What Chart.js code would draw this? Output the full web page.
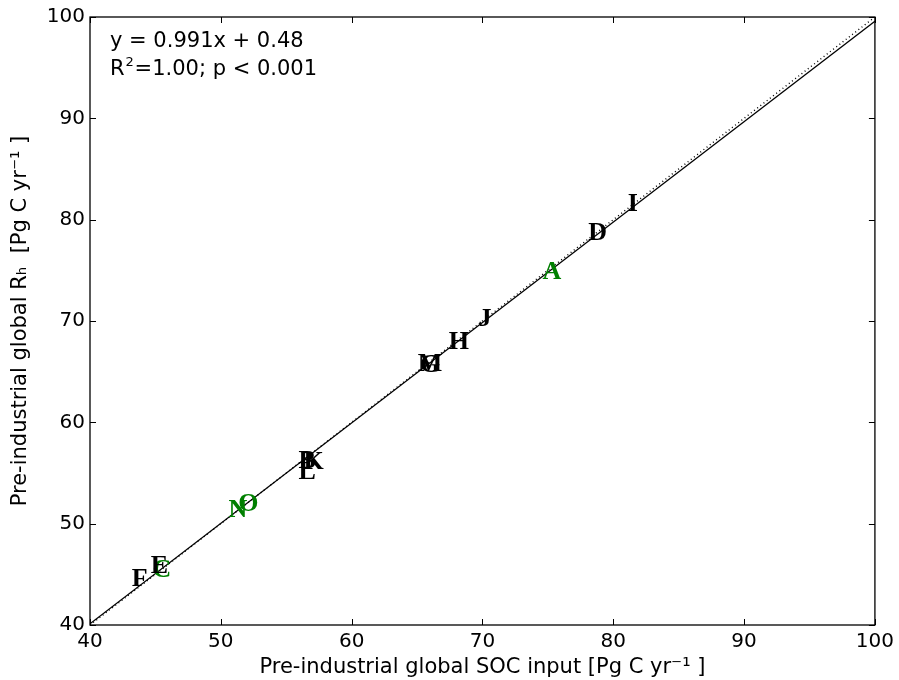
<!DOCTYPE html>
<html>
<head>
<meta charset="utf-8">
<script src="https://cdn.jsdelivr.net/npm/chart.js@4.4.1/dist/chart.umd.min.js"></script>
<style>
  html, body { margin: 0; padding: 0; background: #fff; }
  #chart { display: block; }
</style>
</head>
<body>
<canvas id="chart" width="899" height="680"></canvas>
<script>
// model letters and their values
const modelLabels = ["A", "B", "C", "D", "E", "F", "G", "H", "I", "J", "K", "L", "M", "N", "O"];
const socInput = [75.3, 56.6, 45.5, 78.8, 45.3, 43.8, 66.0, 68.2, 81.5, 70.2, 57.1, 56.6, 66.0, 51.3, 52.1];
const rhValues = [74.9, 56.3, 45.5, 78.8, 45.9, 44.6, 65.7, 68.0, 81.6, 70.3, 56.2, 55.2, 65.8, 51.4, 52.0];
const greenModels = ["A", "C", "N", "O"];

// fit and 1:1 line
const slope = 0.991;
const intercept = 0.48;
const lineX = [40, 100];
const axisTicks = [40, 50, 60, 70, 80, 90, 100];

const fitPoints = lineX.map((x) => ({ x: x, y: slope * x + intercept }));
const onePoints = lineX.map((x) => ({ x: x, y: x }));
const letterPoints = socInput.map((x, i) => ({ x: x, y: rhValues[i], label: modelLabels[i] }));

// letters drawn at the scatter positions
const letterPlugin = {
  id: "letters",
  afterDatasetsDraw(chart) {
    const meta = chart.getDatasetMeta(2);
    const ctx = chart.ctx;
    ctx.save();
    ctx.font = "bold 26px 'Liberation Serif'";
    ctx.textAlign = "center";
    ctx.textBaseline = "middle";
    meta.data.forEach((pt, i) => {
      const lab = modelLabels[i];
      ctx.fillStyle = greenModels.includes(lab) ? "#008000" : "#000000";
      ctx.fillText(lab, pt.x, pt.y + 1);
    });
    ctx.restore();
  },
};

// frame, inward ticks on all four sides, and fit text
const framePlugin = {
  id: "frame",
  afterDraw(chart) {
    const ctx = chart.ctx;
    const a = chart.chartArea;
    const xs = chart.scales.x;
    const ys = chart.scales.y;
    ctx.save();
    ctx.strokeStyle = "#000";
    ctx.lineWidth = 1.3;
    ctx.strokeRect(a.left, a.top, a.right - a.left, a.bottom - a.top);
    ctx.lineWidth = 1;
    ctx.beginPath();
    axisTicks.forEach((v) => {
      const px = Math.round(xs.getPixelForValue(v)) + 0.5;
      ctx.moveTo(px, a.bottom);
      ctx.lineTo(px, a.bottom - 6);
      ctx.moveTo(px, a.top);
      ctx.lineTo(px, a.top + 6);
      const py = Math.round(ys.getPixelForValue(v)) + 0.5;
      ctx.moveTo(a.left, py);
      ctx.lineTo(a.left + 6, py);
      ctx.moveTo(a.right, py);
      ctx.lineTo(a.right - 6, py);
    });
    ctx.stroke();

    ctx.fillStyle = "#000";
    ctx.font = "21px 'DejaVu Sans'";
    ctx.textAlign = "left";
    ctx.textBaseline = "middle";
    ctx.fillText("y = 0.991x + 0.48", a.left + 20, 42);
    ctx.fillText("R", a.left + 20, 70);
    const rw = ctx.measureText("R").width;
    ctx.font = "13px 'DejaVu Sans'";
    ctx.fillText("2", a.left + 20 + rw + 1, 63);
    ctx.font = "21px 'DejaVu Sans'";
    ctx.fillText("=1.00; p < 0.001", a.left + 20 + rw + 10, 70);
    ctx.restore();
  },
};

const ctx = document.getElementById("chart").getContext("2d");

const chart = new Chart(ctx, {
  type: "scatter",
  data: {
    datasets: [
      {
        type: "line",
        data: onePoints,
        borderColor: "#000",
        borderWidth: 1.4,
        borderDash: [1, 3],
        pointRadius: 0,
        fill: false,
      },
      {
        type: "line",
        data: fitPoints,
        borderColor: "#000",
        borderWidth: 1.3,
        pointRadius: 0,
        fill: false,
      },
      {
        data: letterPoints,
        pointRadius: 0,
        pointHoverRadius: 0,
      },
    ],
  },
  options: {
    responsive: false,
    animation: false,
    events: [],
    layout: {
      padding: { top: 17, right: 23, left: 0, bottom: 0 },
    },
    plugins: {
      legend: { display: false },
      tooltip: { enabled: false },
    },
    scales: {
      x: {
        type: "linear",
        min: 40,
        max: 100,
        afterFit: (scale) => {
          scale.height = 55;
        },
        afterBuildTicks: (scale) => {
          scale.ticks = axisTicks.map((v) => ({ value: v }));
        },
        grid: { display: false, drawTicks: false },
        border: { display: false },
        ticks: {
          color: "#000",
          padding: 5,
          font: { family: "DejaVu Sans", size: 20 },
          maxRotation: 0,
        },
        title: {
          display: true,
          text: "Pre-industrial global SOC input [Pg C yr\u207B\u00B9 ]",
          color: "#000",
          font: { family: "DejaVu Sans", size: 21 },
          padding: { top: 0, bottom: 0 },
        },
      },
      y: {
        type: "linear",
        min: 40,
        max: 100,
        afterFit: (scale) => {
          scale.width = 90;
        },
        afterBuildTicks: (scale) => {
          scale.ticks = axisTicks.map((v) => ({ value: v }));
        },
        grid: { display: false, drawTicks: false },
        border: { display: false },
        ticks: {
          color: "#000",
          padding: 5,
          font: { family: "DejaVu Sans", size: 20 },
        },
        title: {
          display: true,
          text: "Pre-industrial global R\u2095  [Pg C yr\u207B\u00B9 ]",
          color: "#000",
          font: { family: "DejaVu Sans", size: 21 },
          padding: { top: 8, bottom: 0 },
        },
      },
    },
  },
  plugins: [letterPlugin, framePlugin],
});
</script>
</body>
</html>
